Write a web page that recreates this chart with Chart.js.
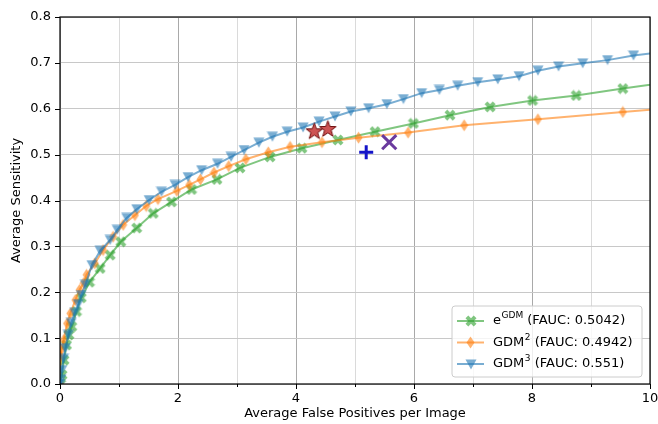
<!DOCTYPE html>
<html>
<head>
<meta charset="utf-8">
<script src="https://cdn.jsdelivr.net/npm/chart.js@4.4.0/dist/chart.umd.min.js"></script>
<style>
  html, body { margin: 0; padding: 0; background: #fff; }
</style>
</head>
<body>
<canvas id="froc" width="658" height="424"></canvas>
<script>
// FROC operating points: average false positives per image vs. average sensitivity
var egdmFp   = [0.01, 0.034, 0.068, 0.11, 0.15, 0.20, 0.28, 0.36, 0.50, 0.68, 0.85, 1.03, 1.30, 1.58, 1.89, 2.23, 2.66, 3.05, 3.56, 4.10, 4.71, 5.34, 5.99, 6.61, 7.29, 8.01, 8.75, 9.54, 10.25];
var egdmSens = [0.0, 0.02, 0.052, 0.085, 0.107, 0.125, 0.158, 0.188, 0.222, 0.252, 0.281, 0.31, 0.34, 0.372, 0.397, 0.424, 0.446, 0.471, 0.495, 0.514, 0.532, 0.55, 0.568, 0.586, 0.604, 0.618, 0.629, 0.644, 0.657];

var gdm2Fp   = [0.0, 0.01, 0.025, 0.063, 0.12, 0.175, 0.26, 0.33, 0.40, 0.45, 0.59, 0.73, 0.90, 1.07, 1.27, 1.46, 1.66, 1.98, 2.19, 2.38, 2.61, 2.86, 3.15, 3.53, 3.90, 4.44, 5.06, 5.90, 6.85, 8.10, 9.54, 10.3];
var gdm2Sens = [0.0, 0.06, 0.075, 0.096, 0.132, 0.154, 0.183, 0.205, 0.22, 0.238, 0.263, 0.292, 0.321, 0.347, 0.368, 0.388, 0.403, 0.421, 0.434, 0.446, 0.461, 0.475, 0.49, 0.505, 0.517, 0.527, 0.537, 0.548, 0.564, 0.577, 0.593, 0.601];

var gdm3Fp   = [0.005, 0.015, 0.03, 0.06, 0.09, 0.14, 0.19, 0.25, 0.31, 0.36, 0.43, 0.54, 0.68, 0.85, 0.97, 1.13, 1.30, 1.51, 1.72, 1.95, 2.17, 2.40, 2.67, 2.90, 3.12, 3.37, 3.60, 3.85, 4.12, 4.39, 4.66, 4.93, 5.23, 5.54, 5.82, 6.13, 6.43, 6.74, 7.08, 7.42, 7.78, 8.10, 8.45, 8.86, 9.28, 9.72, 10.2];
var gdm3Sens = [0.0, 0.01, 0.03, 0.055, 0.078, 0.107, 0.133, 0.155, 0.174, 0.194, 0.216, 0.259, 0.29, 0.314, 0.336, 0.362, 0.381, 0.401, 0.419, 0.434, 0.451, 0.466, 0.48, 0.495, 0.51, 0.526, 0.539, 0.55, 0.559, 0.572, 0.583, 0.594, 0.601, 0.61, 0.621, 0.634, 0.641, 0.65, 0.658, 0.664, 0.671, 0.683, 0.692, 0.699, 0.706, 0.716, 0.724];

// single operating points of other detectors
var starFp   = [4.31, 4.54];
var starSens = [0.552, 0.557];
var plusFp   = [5.19];
var plusSens = [0.505];
var crossFp   = [5.58];
var crossSens = [0.527];

var seriesNames = [['e', 'GDM'], ['GDM', '2'], ['GDM', '3']];
var faucValues  = ['0.5042', '0.4942', '0.551'];

var xTicks = [0, 1, 2, 3, 4, 5, 6, 7, 8, 9, 10];
var yTicks = [0, 0.1, 0.2, 0.3, 0.4, 0.5, 0.6, 0.7, 0.8];

var FONT = '"DejaVu Sans", sans-serif';
var GREEN  = 'rgba(44,160,44,0.6)';
var ORANGE = 'rgba(255,127,14,0.6)';
var BLUE   = 'rgba(31,119,180,0.6)';

function toPoints(xs, ys) {
    var pts = [];
    for (var i = 0; i < xs.length; i++) pts.push({x: xs[i], y: ys[i]});
    return pts;
}

function markerCanvas(w, h, paint) {
    var c = document.createElement('canvas');
    c.width = w;
    c.height = h;
    paint(c.getContext('2d'), w, h);
    return c;
}

// filled thick "X"
var xMarker = markerCanvas(12, 12, function(ctx, w, h) {
    var a = 5.8, t = 2.0;
    ctx.translate(w / 2, h / 2);
    ctx.rotate(Math.PI / 4);
    ctx.beginPath();
    ctx.moveTo(-t, -a); ctx.lineTo(t, -a); ctx.lineTo(t, -t); ctx.lineTo(a, -t);
    ctx.lineTo(a, t); ctx.lineTo(t, t); ctx.lineTo(t, a); ctx.lineTo(-t, a);
    ctx.lineTo(-t, t); ctx.lineTo(-a, t); ctx.lineTo(-a, -t); ctx.lineTo(-t, -t);
    ctx.closePath();
    ctx.fillStyle = GREEN;
    ctx.fill();
});

// thin diamond
var dMarker = markerCanvas(9, 13, function(ctx, w, h) {
    ctx.beginPath();
    ctx.moveTo(w / 2, 0.5); ctx.lineTo(w - 0.5, h / 2);
    ctx.lineTo(w / 2, h - 0.5); ctx.lineTo(0.5, h / 2);
    ctx.closePath();
    ctx.fillStyle = ORANGE;
    ctx.fill();
});

// triangle pointing down
var vMarker = markerCanvas(12, 11, function(ctx, w, h) {
    ctx.beginPath();
    ctx.moveTo(0.5, 0.5); ctx.lineTo(w - 0.5, 0.5); ctx.lineTo(w / 2, h - 0.5);
    ctx.closePath();
    ctx.fillStyle = BLUE;
    ctx.fill();
});

// filled star
var starMarker = markerCanvas(19, 19, function(ctx, w, h) {
    var ro = 8.6, ri = 3.5;
    ctx.translate(w / 2, h / 2 + 0.8);
    ctx.beginPath();
    for (var i = 0; i < 10; i++) {
        var r = i % 2 ? ri : ro;
        var ang = -Math.PI / 2 + i * Math.PI / 5;
        ctx[i ? 'lineTo' : 'moveTo'](r * Math.cos(ang), r * Math.sin(ang));
    }
    ctx.closePath();
    ctx.fillStyle = 'rgba(192,40,40,0.8)';
    ctx.fill();
    ctx.lineWidth = 1;
    ctx.strokeStyle = '#6e0c0c';
    ctx.stroke();
});

var seriesMarkers = [xMarker, dMarker, vMarker];
var seriesColors  = [GREEN, ORANGE, BLUE];

// tick marks, frame and in-plot legend
var frocDecor = {
    id: 'frocDecor',
    afterDraw: function(chart) {
        var ctx = chart.ctx;
        var ca = chart.chartArea;
        var xs = chart.scales.x, ys = chart.scales.y;

        ctx.save();
        ctx.strokeStyle = '#000';
        ctx.lineWidth = 1;
        xTicks.forEach(function(v) {
            var px = Math.round(xs.getPixelForValue(v)) + 0.5;
            var len = v % 2 === 0 ? 5 : 3;
            ctx.beginPath();
            ctx.moveTo(px, ca.bottom);
            ctx.lineTo(px, ca.bottom + len);
            ctx.stroke();
        });
        yTicks.forEach(function(v) {
            var py = Math.round(ys.getPixelForValue(v)) + 0.5;
            ctx.beginPath();
            ctx.moveTo(ca.left, py);
            ctx.lineTo(ca.left - 5, py);
            ctx.stroke();
        });
        ctx.lineWidth = 1.2;
        ctx.strokeRect(ca.left, ca.top, ca.right - ca.left, ca.bottom - ca.top);

        // legend box
        var bw = 190, bh = 71;
        var bx = ca.right - 8 - bw, by = ca.bottom - 7 - bh;
        var r = 3;
        ctx.beginPath();
        ctx.moveTo(bx + r, by);
        ctx.arcTo(bx + bw, by, bx + bw, by + bh, r);
        ctx.arcTo(bx + bw, by + bh, bx, by + bh, r);
        ctx.arcTo(bx, by + bh, bx, by, r);
        ctx.arcTo(bx, by, bx + bw, by, r);
        ctx.closePath();
        ctx.fillStyle = 'rgba(255,255,255,0.8)';
        ctx.fill();
        ctx.strokeStyle = '#cccccc';
        ctx.lineWidth = 1;
        ctx.stroke();

        for (var i = 0; i < 3; i++) {
            var ry = by + 15 + i * 21.5;
            ctx.strokeStyle = seriesColors[i];
            ctx.lineWidth = 2;
            ctx.beginPath();
            ctx.moveTo(bx + 5, ry);
            ctx.lineTo(bx + 32, ry);
            ctx.stroke();
            var m = seriesMarkers[i];
            ctx.drawImage(m, Math.round(bx + 18.5 - m.width / 2), Math.round(ry - m.height / 2));

            var tx = bx + 41;
            ctx.fillStyle = '#000';
            ctx.textBaseline = 'middle';
            ctx.font = '13px ' + FONT;
            ctx.fillText(seriesNames[i][0], tx, ry);
            tx += ctx.measureText(seriesNames[i][0]).width;
            ctx.font = '9px ' + FONT;
            ctx.fillText(seriesNames[i][1], tx + 0.5, ry - 5);
            tx += ctx.measureText(seriesNames[i][1]).width + 0.5;
            ctx.font = '13px ' + FONT;
            ctx.fillText(' (FAUC: ' + faucValues[i] + ')', tx, ry);
        }
        ctx.restore();
    }
};

var lineSet = function(label, xs, ys, marker, color, order) {
    return {
        label: label,
        data: toPoints(xs, ys),
        showLine: true,
        borderColor: color,
        borderWidth: 2,
        pointStyle: marker,
        pointRadius: 5,
        pointBorderWidth: 0,
        order: order
    };
};

new Chart(document.getElementById('froc').getContext('2d'), {
    type: 'scatter',
    data: {
        datasets: [
            {
                label: 'stars',
                data: toPoints(starFp, starSens),
                pointStyle: starMarker,
                pointRadius: 8,
                order: 0
            },
            {
                label: 'plus',
                data: toPoints(plusFp, plusSens),
                pointStyle: 'cross',
                pointRadius: 7,
                pointBorderWidth: 3,
                borderColor: '#1414c8',
                order: 0
            },
            {
                label: 'cross',
                data: toPoints(crossFp, crossSens),
                pointStyle: 'crossRot',
                pointRadius: 10,
                pointBorderWidth: 3,
                borderColor: '#6a3a9e',
                order: 0
            },
            lineSet('GDM3', gdm3Fp, gdm3Sens, vMarker, BLUE, 1),
            lineSet('GDM2', gdm2Fp, gdm2Sens, dMarker, ORANGE, 2),
            lineSet('eGDM', egdmFp, egdmSens, xMarker, GREEN, 3)
        ]
    },
    options: {
        responsive: false,
        animation: false,
        devicePixelRatio: 1,
        events: [],
        layout: {
            autoPadding: false,
            padding: { top: 17, right: 8, bottom: 0, left: 0 }
        },
        plugins: {
            legend: { display: false },
            tooltip: { enabled: false }
        },
        scales: {
            x: {
                type: 'linear',
                min: 0,
                max: 10,
                afterFit: function(s) {
                    s.height = 40;
                    s.paddingLeft = 0;
                    s.paddingRight = 0;
                },
                border: { display: false },
                grid: {
                    drawTicks: false,
                    lineWidth: 1,
                    color: function(c) {
                        return c.tick && c.tick.value % 2 === 0 ? '#a9a9a9' : '#dadada';
                    }
                },
                ticks: {
                    stepSize: 1,
                    autoSkip: false,
                    maxRotation: 0,
                    padding: 7,
                    color: '#000',
                    font: { family: FONT, size: 13 },
                    callback: function(v) { return v % 2 === 0 ? String(v) : ''; }
                },
                title: {
                    display: true,
                    text: 'Average False Positives per Image',
                    color: '#000',
                    font: { family: FONT, size: 13 },
                    padding: { top: 0, bottom: 3 }
                }
            },
            y: {
                type: 'linear',
                min: 0,
                max: 0.8,
                afterFit: function(s) {
                    s.width = 60;
                    s.paddingTop = 0;
                    s.paddingBottom = 0;
                },
                border: { display: false },
                grid: {
                    drawTicks: false,
                    lineWidth: 1,
                    color: '#c8c8c8'
                },
                ticks: {
                    stepSize: 0.1,
                    padding: 9,
                    color: '#000',
                    font: { family: FONT, size: 13 },
                    callback: function(v) { return v.toFixed(1); }
                },
                title: {
                    display: true,
                    text: 'Average Sensitivity',
                    color: '#000',
                    font: { family: FONT, size: 13 },
                    padding: { top: 9, bottom: 0 }
                }
            }
        }
    },
    plugins: [frocDecor]
});
</script>
</body>
</html>
